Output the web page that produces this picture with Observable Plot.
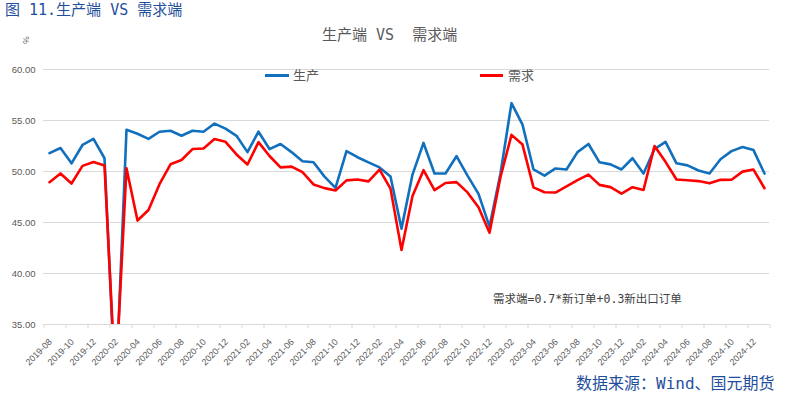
<!DOCTYPE html>
<html><head><meta charset="utf-8">
<script src="https://cdn.jsdelivr.net/npm/d3@7"></script>
<script src="https://cdn.jsdelivr.net/npm/@observablehq/plot@0.6"></script>
<style>
body{margin:0;background:#fff;}
#wrap{position:relative;width:786px;height:396px;overflow:hidden;font-family:"Noto Sans CJK SC","Noto Sans",sans-serif;}
.abs{position:absolute;white-space:pre;line-height:1;}
.mono{font-family:"DejaVu Sans Mono","Noto Sans CJK SC",monospace;}
.sw{position:absolute;height:0;}
</style></head><body>
<div id="wrap">
  <div id="chart"></div>
  <div class="abs mono" id="title" style="left:5px;top:3px;font-size:15px;color:#1f4f9c;">图 11.生产端 VS 需求端</div>
  <div class="abs mono" id="ctitle" style="left:322px;top:28px;font-size:15px;color:#595959;">生产端 VS  需求端</div>
  <div class="abs" style="left:22px;top:36px;font-size:8px;color:#595959;transform:rotate(-90deg);">%</div>
  <div class="sw" style="left:265px;top:74px;width:24px;border-top:3px solid #1170bd;"></div>
  <div class="abs" id="leg1" style="left:293px;top:68px;font-size:13px;color:#595959;"></div>
  <div class="sw" style="left:480px;top:74px;width:23px;border-top:3px solid #ff0000;"></div>
  <div class="abs" id="leg2" style="left:508px;top:68px;font-size:13px;color:#595959;"></div>
  <div class="abs mono" style="left:493px;top:294px;font-size:11.5px;color:#404040;">需求端=0.7*新订单+0.3新出口订单</div>
  <div class="abs mono" style="left:576px;top:376px;font-size:16px;color:#1f4f9c;">数据来源：Wind、国元期货</div>
</div>
<script>
const seriesNames = ["生产", "需求"];
const months = [
  "2019-08","2019-09","2019-10","2019-11","2019-12",
  "2020-01","2020-02","2020-03","2020-04","2020-05","2020-06","2020-07","2020-08","2020-09","2020-10","2020-11","2020-12",
  "2021-01","2021-02","2021-03","2021-04","2021-05","2021-06","2021-07","2021-08","2021-09","2021-10","2021-11","2021-12",
  "2022-01","2022-02","2022-03","2022-04","2022-05","2022-06","2022-07","2022-08","2022-09","2022-10","2022-11","2022-12",
  "2023-01","2023-02","2023-03","2023-04","2023-05","2023-06","2023-07","2023-08","2023-09","2023-10","2023-11","2023-12",
  "2024-01","2024-02","2024-03","2024-04","2024-05","2024-06","2024-07","2024-08","2024-09","2024-10","2024-11","2024-12",
  "2025-01"
];
const production = [
  51.8, 52.3, 50.8, 52.6, 53.2,
  51.3, 27.8, 54.1, 53.7, 53.2, 53.9, 54.0, 53.5, 54.0, 53.9, 54.7, 54.2,
  53.5, 51.9, 53.9, 52.2, 52.7, 51.9, 51.0, 50.9, 49.5, 48.4, 52.0, 51.4,
  50.9, 50.4, 49.5, 44.4, 49.7, 52.8, 49.8, 49.8, 51.5, 49.6, 47.8, 44.6,
  49.8, 56.7, 54.6, 50.2, 49.6, 50.3, 50.2, 51.9, 52.7, 50.9, 50.7, 50.2,
  51.3, 49.8, 52.2, 52.9, 50.8, 50.6, 50.1, 49.8, 51.2, 52.0, 52.4, 52.1,
  49.8
];
const demand = [
  48.95, 49.81, 48.82, 50.55, 50.93,
  50.59, 29.12, 50.32, 45.19, 46.22, 48.76, 50.71, 51.13, 52.20, 52.26, 53.18, 52.91,
  51.67, 50.69, 52.88, 51.52, 50.40, 50.48, 49.94, 48.73, 48.37, 48.14, 49.13, 49.22,
  49.03, 50.19, 48.32, 42.30, 47.60, 50.13, 48.17, 48.87, 48.96, 47.95, 46.49, 43.99,
  49.46, 53.59, 52.64, 48.44, 47.97, 47.94, 48.54, 49.15, 49.69, 48.69, 48.47, 47.83,
  48.46, 48.19, 52.49, 50.95, 49.21, 49.14, 49.06, 48.84, 49.18, 49.19, 49.99, 50.19,
  48.36
];
const yTicks = [35, 40, 45, 50, 55, 60];
const xTickLabels = months.filter((d, i) => i % 2 === 0);

document.getElementById("leg1").textContent = seriesNames[0];
document.getElementById("leg2").textContent = seriesNames[1];

const W = 786, H = 396, mL = 43, mR = 17, mT = 69, mB = 72;
const step = (W - mL - mR) / months.length;
const data = months.map((m, i) => ({month: m, production: production[i], demand: demand[i]}));

const chart = Plot.plot({
  width: W, height: H,
  marginLeft: mL, marginRight: mR, marginTop: mT, marginBottom: mB,
  style: {fontFamily: "'Liberation Sans', Arial, sans-serif", fontSize: "9px", color: "#595959", background: "transparent"},
  x: {type: "point", domain: months, padding: 0.5, align: 0.5},
  y: {domain: [35, 60]},
  marks: [
    Plot.gridY(yTicks, {stroke: "#d9d9d9", strokeOpacity: 1, strokeWidth: 1}),
    Plot.axisY({ticks: yTicks, tickSize: 0, tickPadding: 8, tickFormat: d3.format(".2f"), label: null, fontSize: 9.5, fill: "#595959"}),
    Plot.axisX({ticks: xTickLabels, tickSize: 4, tickFormat: () => "", dx: -step / 2, stroke: "#d9d9d9", strokeOpacity: 1, label: null}),
    Plot.axisX({ticks: [months[months.length - 1]], tickSize: 4, tickFormat: () => "", dx: step / 2, stroke: "#d9d9d9", strokeOpacity: 1, label: null}),
    Plot.axisX({ticks: xTickLabels, tickSize: 0, tickPadding: 16, tickRotate: -45, label: null, fill: "#595959", fontSize: 9, dx: 1}),
    Plot.lineY(data, {x: "month", y: "production", stroke: "#1170bd", strokeWidth: 2.6, strokeLinejoin: "round", clip: true}),
    Plot.lineY(data, {x: "month", y: "demand", stroke: "#ff0000", strokeWidth: 2.6, strokeLinejoin: "round", clip: true})
  ]
});
document.getElementById("chart").appendChild(chart);
</script>
</body></html>
